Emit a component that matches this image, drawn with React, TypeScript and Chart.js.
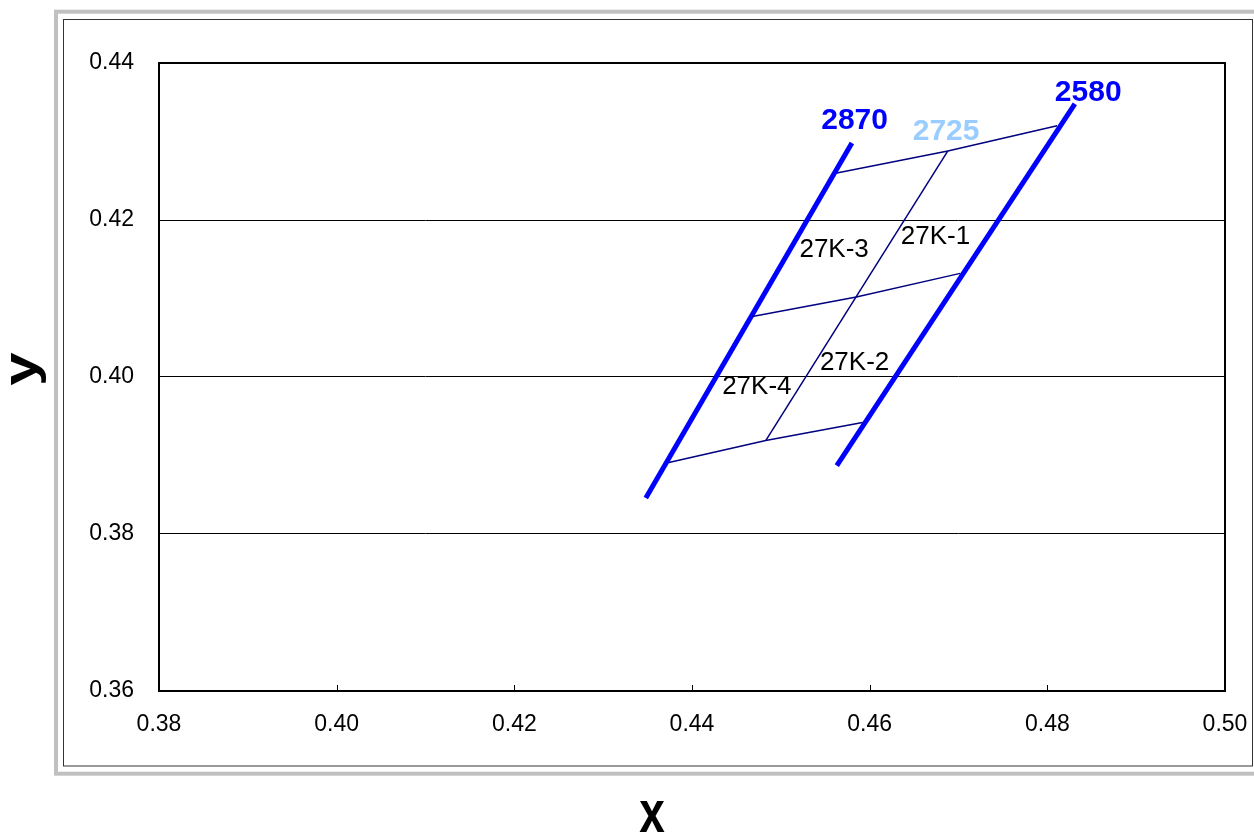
import React, { useEffect, useRef } from "react";
import { Chart, registerables } from "chart.js";

Chart.register(...registerables);

// Constant-temperature lines (x, y chromaticity)
const line2870X = [0.4348, 0.458];
const line2870Y = [0.3846, 0.4298];
const line2580X = [0.4563, 0.4831];
const line2580Y = [0.3887, 0.4348];
const line2725X = [0.4483, 0.4688];
const line2725Y = [0.3919, 0.4288];
// Cross lines
const topX = [0.4563, 0.4688, 0.4811];
const topY = [0.426, 0.4288, 0.432];
const midX = [0.4468, 0.4585, 0.4702];
const midY = [0.4077, 0.4102, 0.4132];
const botX = [0.4374, 0.4483, 0.4592];
const botY = [0.3891, 0.3919, 0.3942];

const xTicks = [0.38, 0.4, 0.42, 0.44, 0.46, 0.48, 0.5];
const yTicks = [0.36, 0.38, 0.4, 0.42, 0.44];

const annotText = ["2870", "2725", "2580", "27K-3", "27K-1", "27K-2", "27K-4"];
const annotX = [0.4583, 0.4686, 0.4846, 0.456, 0.4674, 0.4583, 0.4473];
const annotY = [0.4327, 0.4313, 0.4362, 0.4162, 0.4178, 0.4018, 0.3988];

const FONT = '"Liberation Sans", Arial, sans-serif';

const pts = (xs: number[], ys: number[]) => xs.map((x, i) => ({ x, y: ys[i] }));

export default function App() {
  const ref = useRef<HTMLCanvasElement | null>(null);

  useEffect(() => {
    document.body.style.margin = "0";
    const canvas = ref.current;
    if (!canvas) return;

    const framePlugin = {
      id: "frame",
      beforeDraw(chart: any) {
        const ctx = chart.ctx;
        ctx.save();
        ctx.fillStyle = "#ffffff";
        ctx.fillRect(0, 0, chart.width, chart.height);
        ctx.strokeStyle = "#c0c0c0";
        ctx.lineWidth = 4;
        ctx.strokeRect(56, 11.7, 1210, 762);
        ctx.strokeStyle = "#333333";
        ctx.lineWidth = 1;
        ctx.strokeRect(63.5, 19.5, 1189, 746.5);
        ctx.restore();
      },
      afterDraw(chart: any) {
        const ctx = chart.ctx;
        const a = chart.chartArea;
        const xs = chart.scales.x;
        ctx.save();
        ctx.strokeStyle = "#000";
        ctx.lineWidth = 1;
        xTicks.forEach((v) => {
          const px = Math.round(xs.getPixelForValue(v)) + 0.5;
          ctx.beginPath();
          ctx.moveTo(px, a.bottom);
          ctx.lineTo(px, a.bottom - 6);
          ctx.stroke();
        });
        ctx.lineWidth = 2;
        ctx.strokeRect(a.left, a.top, a.right - a.left, a.bottom - a.top);
        // axis titles
        ctx.fillStyle = "#000";
        ctx.font = "bold 46px " + FONT;
        ctx.textAlign = "center";
        ctx.textBaseline = "alphabetic";
        ctx.save();
        ctx.translate(652, 832);
        ctx.scale(1, 1.3);
        ctx.fillText("x", 0, 0);
        ctx.restore();
        ctx.save();
        ctx.translate(29, 369);
        ctx.scale(1, 1.3);
        ctx.rotate(-Math.PI / 2);
        ctx.fillText("y", 0, 7);
        ctx.restore();
        ctx.restore();
      },
      afterDatasetsDraw(chart: any) {
        const ctx = chart.ctx;
        const xs = chart.scales.x;
        const ys = chart.scales.y;
        ctx.save();
        ctx.textAlign = "center";
        ctx.textBaseline = "middle";
        annotText.forEach((t, i) => {
          const px = xs.getPixelForValue(annotX[i]);
          const py = ys.getPixelForValue(annotY[i]);
          if (i < 3) {
            ctx.font = "bold 30px " + FONT;
            ctx.fillStyle = i === 1 ? "#99ccff" : "#0000ff";
          } else {
            ctx.font = "26px " + FONT;
            ctx.fillStyle = "#000";
          }
          ctx.fillText(t, px, py);
        });
        ctx.restore();
      },
    };

    const thick = (data: any[]) => ({
      data,
      showLine: true,
      borderColor: "#0000ff",
      borderWidth: 5,
      pointRadius: 0,
      tension: 0,
      borderCapStyle: "butt",
    });
    const thin = (data: any[]) => ({
      data,
      showLine: true,
      borderColor: "#000080",
      borderWidth: 1.5,
      pointRadius: 0,
      tension: 0,
    });

    const chart = new Chart(canvas, {
      type: "scatter",
      data: {
        datasets: [
          thin(pts(topX, topY)),
          thin(pts(midX, midY)),
          thin(pts(botX, botY)),
          thin(pts(line2725X, line2725Y)),
          thick(pts(line2870X, line2870Y)),
          thick(pts(line2580X, line2580Y)),
        ] as any,
      },
      options: {
        animation: false,
        responsive: false,
        maintainAspectRatio: false,
        layout: { padding: { left: 0, top: 63, right: 29, bottom: 0 } },
        plugins: { legend: { display: false }, tooltip: { enabled: false } },
        scales: {
          x: {
            type: "linear",
            min: 0.38,
            max: 0.5,
            afterFit: (s: any) => {
              s.height = 142;
              s.paddingLeft = 0;
              s.paddingRight = 0;
            },
            afterBuildTicks: (s: any) => {
              s.ticks = xTicks.map((v) => ({ value: v }));
            },
            grid: { display: false, drawTicks: false },
            border: { display: false },
            ticks: {
              padding: 20,
              color: "#000",
              font: { family: FONT, size: 23 },
              maxRotation: 0,
              autoSkip: false,
              callback: (v: any) => Number(v).toFixed(2),
            },
          },
          y: {
            type: "linear",
            min: 0.36,
            max: 0.44,
            afterFit: (s: any) => {
              s.width = 159;
              s.paddingTop = 0;
              s.paddingBottom = 0;
            },
            afterBuildTicks: (s: any) => {
              s.ticks = yTicks.map((v) => ({ value: v }));
            },
            grid: { color: "#000", lineWidth: 1, drawTicks: false },
            border: { display: false },
            ticks: {
              padding: 25,
              color: "#000",
              font: { family: FONT, size: 23 },
              autoSkip: false,
              callback: (v: any) => Number(v).toFixed(2),
            },
          },
        },
      } as any,
      plugins: [framePlugin],
    });
    return () => chart.destroy();
  }, []);

  return (
    <div style={{ position: "absolute", left: 0, top: 0, width: 1254, height: 833 }}>
      <canvas ref={ref} width={1254} height={833} style={{ display: "block" }} />
    </div>
  );
}
